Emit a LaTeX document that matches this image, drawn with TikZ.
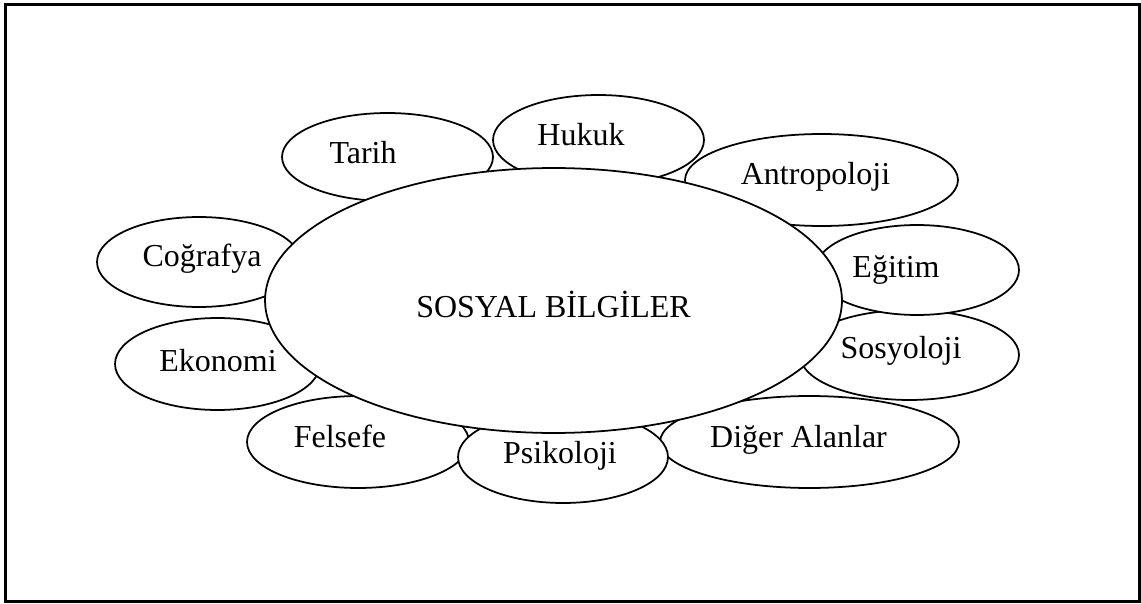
\documentclass[tikz,border=0pt]{standalone}
\usepackage{fontspec}
\setmainfont{Liberation Serif}
\usetikzlibrary{shapes.geometric}

\tikzset{
  bubble/.style 2 args={ellipse, draw, fill=white, line width=1pt, inner sep=0pt,
    minimum width=#1cm, minimum height=#2cm},
  word/.style={anchor=base, inner sep=0pt, font=\fontsize{18.2}{20}\selectfont}
}

\begin{document}
\begin{tikzpicture}[x=0.02cm, y=-0.02cm]
\useasboundingbox (0,0) rectangle (1141,604);
\draw[line width=1.7pt] (5.5,4.5) rectangle (1139,601);

% outer ring
\node[bubble={4.22}{1.76}] (tarih) at (387.5,157) {};
\node[word] (tarih-t) at (363,164) {Tarih};
\node[bubble={4.22}{1.80}] (hukuk) at (598.5,140) {};
\node[word] (hukuk-t) at (581,146) {Hukuk};
\node[bubble={5.46}{1.84}] (antro) at (821.5,180) {};
\node[word] (antro-t) at (815.5,185) {Antropoloji};
\node[bubble={4.08}{1.80}] (cog) at (199,262) {};
\node[word] (cog-t) at (202,267) {Coğrafya};
\node[bubble={4.10}{1.84}] (eko) at (217.5,364) {};
\node[word] (eko-t) at (218,371) {Ekonomi};
\node[bubble={4.38}{1.80}] (sos) at (909.5,355) {};
\node[word] (sos-t) at (901,358) {Sosyoloji};
\node[bubble={4.08}{1.80}] (egt) at (917,270) {};
\node[word] (egt-t) at (896,277) {Eğitim};
\node[bubble={4.44}{1.84}] (fel) at (358,442) {};
\node[word] (fel-t) at (340,447) {Felsefe};
\node[bubble={5.98}{1.84}] (diger) at (809.5,442) {};
\node[word] (diger-t) at (798.5,447) {Diğer Alanlar};
\node[bubble={4.20}{1.84}] (psi) at (563,457) {};
\node[word] (psi-t) at (560,463) {Psikoloji};

% centre
\node[bubble={11.54}{5.30}] (sb) at (553.5,300.5) {};
\node[word] (sb-t) at (553.5,317) {SOSYAL BİLGİLER};
\end{tikzpicture}
\end{document}
